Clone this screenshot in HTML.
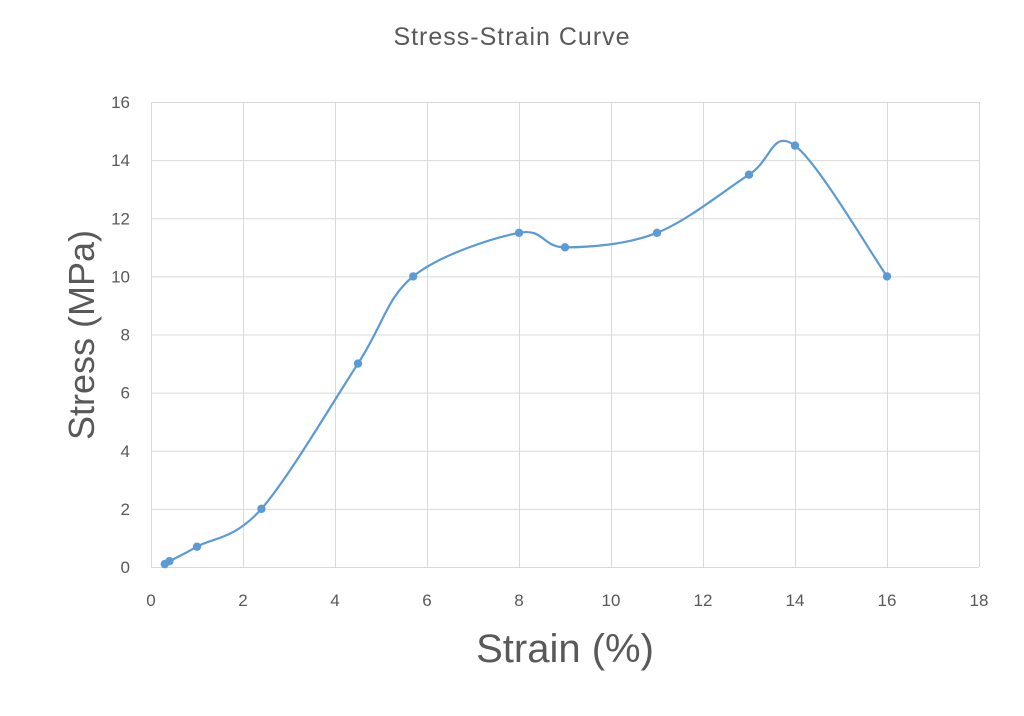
<!DOCTYPE html>
<html><head><meta charset="utf-8"><style>
html,body{margin:0;padding:0;background:#fff;}
svg{display:block;font-family:"Liberation Sans",sans-serif;}
</style></head><body>
<svg id="s" width="1024" height="716" viewBox="0 0 1024 716">
<rect width="1024" height="716" fill="#fff"/>
<text x="512" y="45" text-anchor="middle" font-size="25" letter-spacing="1" fill="#595959">Stress-Strain Curve</text>
<g id="grid" stroke="#d9d9d9" stroke-width="1"></g>
<g id="ticks" font-size="17" fill="#595959"></g>
<text x="565" y="662" text-anchor="middle" font-size="40" fill="#595959">Strain (%)</text>
<text transform="translate(94,335) rotate(-90)" text-anchor="middle" font-size="36" fill="#595959">Stress (MPa)</text>
<path id="curve" fill="none" stroke="#5b9bd5" stroke-width="2.2"/>
<g id="pts" fill="#5b9bd5"></g>
</svg>
<script>
var NS="http://www.w3.org/2000/svg";
function X(v){return 151+46*v;}function Y(v){return 567-29.06*v;}
function el(t,a,p,txt){var e=document.createElementNS(NS,t);for(var k in a)e.setAttribute(k,a[k]);if(txt!==undefined)e.textContent=txt;document.getElementById(p).appendChild(e);}
for(var i=0;i<=18;i+=2){el('line',{x1:X(i)+0.5,x2:X(i)+0.5,y1:Y(16),y2:Y(0)},'grid');el('text',{x:X(i),y:606,'text-anchor':'middle'},'ticks',i);}
for(var j=0;j<=16;j+=2){el('line',{x1:X(0),x2:X(18),y1:Y(j)+0.5,y2:Y(j)+0.5},'grid');el('text',{x:130,y:Y(j)+6,'text-anchor':'end'},'ticks',j);}
var d=[[0.3,0.1],[0.4,0.2],[1,0.7],[2.4,2],[4.5,7],[5.7,10],[8,11.5],[9,11],[11,11.5],[13,13.5],[14,14.5],[16,10]];
var P=d.map(function(p){return [X(p[0]),Y(p[1])];});
var s="M"+P[0][0]+","+P[0][1];var t=1/6;
for(var k=0;k<P.length-1;k++){var p0=P[k-1]||P[k],p1=P[k],p2=P[k+1],p3=P[k+2]||P[k+1];
s+=" C"+(p1[0]+(p2[0]-p0[0])*t)+","+(p1[1]+(p2[1]-p0[1])*t)+" "+(p2[0]-(p3[0]-p1[0])*t)+","+(p2[1]-(p3[1]-p1[1])*t)+" "+p2[0]+","+p2[1];}
document.getElementById('curve').setAttribute('d',s);
P.forEach(function(p){el('circle',{cx:p[0],cy:p[1],r:4.2},'pts');});
</script>
</body></html>
